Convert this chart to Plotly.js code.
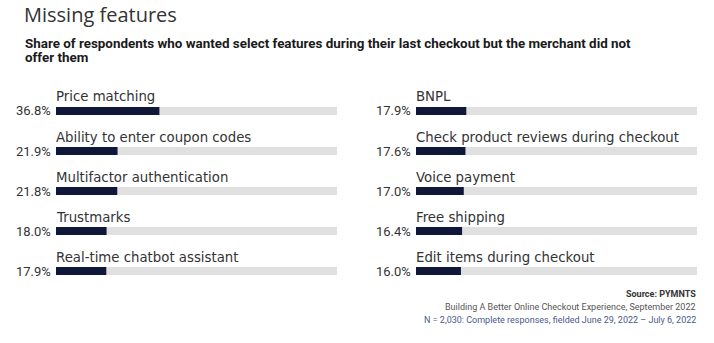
<!DOCTYPE html>
<html><head><meta charset="utf-8">
<script src="https://cdn.plot.ly/plotly-3.0.1.min.js"></script>
<style>html,body{margin:0;padding:0;background:#fff;}#chart{width:714px;height:343px;}</style>
</head><body><div id="chart"></div>
<script>
const leftCats = ["Price matching","Ability to enter coupon codes","Multifactor authentication","Trustmarks","Real-time chatbot assistant"];
const leftVals = [36.8,21.9,21.8,18.0,17.9];
const rightCats = ["BNPL","Check product reviews during checkout","Voice payment","Free shipping","Edit items during checkout"];
const rightVals = [17.9,17.6,17.0,16.4,16.0];
const trackMax = 100;

const NAVY = "#0f1838", GREY = "#e0e0e0";
const traces = [];
function addPanel(cats, vals, xa, ya){
  traces.push({type:"bar",orientation:"h",y:cats,x:cats.map(()=>trackMax),xaxis:xa,yaxis:ya,
    marker:{color:GREY},width:0.2,hoverinfo:"skip",showlegend:false});
  traces.push({type:"bar",orientation:"h",y:cats,x:vals,xaxis:xa,yaxis:ya,
    marker:{color:NAVY},width:0.2,showlegend:false});
}
addPanel(leftCats,leftVals,"x","y");
addPanel(rightCats,rightVals,"x2","y2");

const ann = [];
function addLabels(cats, vals, xref, yref){
  cats.forEach((c,i)=>{
    ann.push({xref:xref,yref:yref,x:0,y:c,text:c,xanchor:"left",yanchor:"middle",yshift:14,xshift:-2,
      showarrow:false,font:{family:"DejaVu Sans",size:13.3,color:"#333"}});
    ann.push({xref:xref,yref:yref,x:0,y:c,text:vals[i].toFixed(1)+"%",xanchor:"right",yanchor:"middle",xshift:-3,
      showarrow:false,font:{family:"Roboto",size:13,color:"#333"}});
  });
}
addLabels(leftCats,leftVals,"x","y");
addLabels(rightCats,rightVals,"x2","y2");

ann.push({xref:"paper",yref:"paper",x:22/714,y:1-14/343,xanchor:"left",yanchor:"middle",showarrow:false,
  text:"Missing features",font:{family:"Open Sans",size:20,color:"#333"}});
const subLines = ["Share of respondents who wanted select features during their last checkout but the merchant did not","offer them"];
subLines.forEach((t,i)=>{
  ann.push({xref:"paper",yref:"paper",x:23/714,y:1-(43+15*i)/343,xanchor:"left",yanchor:"middle",showarrow:false,
    text:"<b>"+t+"</b>",font:{family:"Roboto",size:13.4,color:"#1a1a1a"}});
});
const srcLines = [["<b>Source: PYMNTS</b>","#333"],["Building A Better Online Checkout Experience, September 2022","#555"],["N = 2,030: Complete responses, fielded June 29, 2022 – July 6, 2022","#4a5a8c"]];
srcLines.forEach((s,i)=>{
  ann.push({xref:"paper",yref:"paper",x:698/714,y:1-(294+13*i)/343,xanchor:"right",yanchor:"middle",showarrow:false,
    text:s[0],font:{family:"Roboto",size:9,color:s[1]}});
});

const yDom = [52/343, 252/343];
const layout = {
  width:714,height:343,margin:{l:0,r:0,t:0,b:0},paper_bgcolor:"#fff",plot_bgcolor:"#fff",
  barmode:"overlay",
  xaxis:{domain:[56/714,337/714],range:[0,trackMax],visible:false,fixedrange:true},
  xaxis2:{domain:[416/714,697/714],range:[0,trackMax],visible:false,fixedrange:true},
  yaxis:{domain:yDom,range:[4.5,-0.5],visible:false,type:"category",categoryarray:leftCats},
  yaxis2:{domain:yDom,range:[4.5,-0.5],visible:false,type:"category",categoryarray:rightCats,anchor:"x2"},
  annotations:ann
};
Plotly.newPlot("chart",traces,layout,{displayModeBar:false,staticPlot:true});
</script></body></html>
